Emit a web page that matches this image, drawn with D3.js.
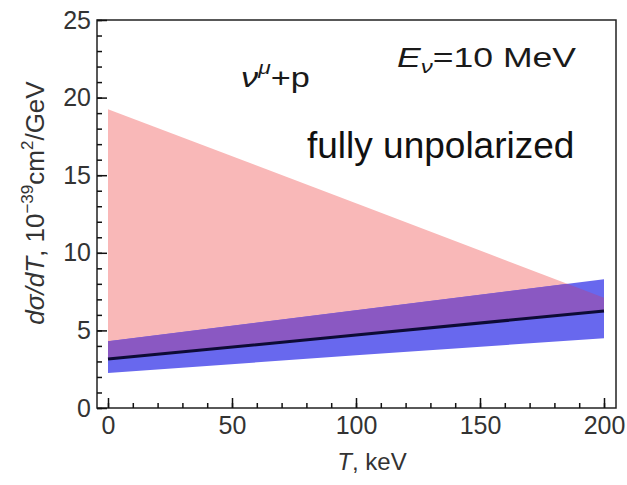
<!DOCTYPE html>
<html lang="en">
    <head>
        <meta charset="utf-8">
        <title>dsigma/dT</title>
        <style>
          body { margin: 0; background: white; }
          text { font-family: "Liberation Sans", Arial, sans-serif; fill: #1a1a1a; }
          .axis path { display: none; }
          .axis line { stroke: #111; stroke-width: 1.5px; }
          .axis text { font-size: 25px; fill: #333; }
        </style>
        <script src="https://d3js.org/d3.v7.min.js"></script>
    </head>
    <body>
        <script type="text/javascript">
          var w=627;
          var h=485;

          // values
          var T=[0,100,200];
          var unpolarized=[3.15,4.7,6.25];
          var pinkTop=[19.25,13.2,7.1];
          var blueLow=[2.25,3.4,4.5];
          var blueHigh=[4.3,6.3,8.3];
          var xTicks=[0,50,100,150,200];
          var yTicks=[0,5,10,15,20,25];

          var svg=d3.select("body").append("svg")
            .attr('width',w)
            .attr('height',h);

          // plot frame (note: "top" is reserved on window)
          var fLeft=97, fRight=616, fTop=20, fBottom=408;

          var x=d3.scaleLinear().domain([0,200]).range([108,604]);
          var y=d3.scaleLinear().domain([0,25]).range([fBottom,fTop]);

          var pts=T.map(function(t,i){
            return {t:t, u:unpolarized[i], p:pinkTop[i], bl:blueLow[i], bh:blueHigh[i]};
          });

          var pinkArea=d3.area()
            .x(function(d){ return x(d.t); })
            .y0(function(d){ return y(d.u); })
            .y1(function(d){ return y(d.p); });
          var blueArea=d3.area()
            .x(function(d){ return x(d.t); })
            .y0(function(d){ return y(d.bl); })
            .y1(function(d){ return y(d.bh); });

          svg.append("clipPath").attr("id","blueClip")
            .append("path").attr("d",blueArea(pts));

          svg.append("path").attr("d",pinkArea(pts)).attr("fill","#f9b8b8");
          svg.append("path").attr("d",blueArea(pts)).attr("fill","#6868ee");
          // overlap of the two bands
          svg.append("path").attr("d",pinkArea(pts))
            .attr("fill","#8a58c2")
            .attr("clip-path","url(#blueClip)");

          svg.append("path")
            .attr("d",d3.line().x(function(d){ return x(d.t); }).y(function(d){ return y(d.u); })(pts))
            .attr("fill","none")
            .attr("stroke","#0d0b35")
            .attr("stroke-width",3);

          // frame
          svg.append("rect")
            .attr("x",fLeft).attr("y",fTop)
            .attr("width",fRight-fLeft).attr("height",fBottom-fTop)
            .attr("fill","none").attr("stroke","#222").attr("stroke-width",1.5);

          // axes, ticks inward
          svg.append("g").attr("class","axis")
            .attr("transform","translate(0,"+fBottom+")")
            .call(d3.axisBottom(x).tickValues(xTicks).tickSize(-10).tickPadding(8));
          svg.append("g").attr("class","axis")
            .attr("transform","translate(0,"+fBottom+")")
            .call(d3.axisBottom(x).tickValues(d3.range(0,201,10)).tickSize(-5).tickFormat(""));
          svg.append("g").attr("class","axis")
            .attr("transform","translate("+fLeft+",0)")
            .call(d3.axisLeft(y).tickValues(yTicks).tickSize(-10).tickPadding(6));
          svg.append("g").attr("class","axis")
            .attr("transform","translate("+fLeft+",0)")
            .call(d3.axisLeft(y).tickValues(d3.range(0,26,1)).tickSize(-5).tickFormat(""));

          // axis titles
          var xl=svg.append("text")
            .attr("x",372).attr("y",470)
            .attr("text-anchor","middle")
            .style("font-size","24px").style("fill","#333");
          xl.append("tspan").style("font-style","italic").text("T");
          xl.append("tspan").text(", keV");

          var yl=svg.append("text")
            .attr("transform","translate(44,203) rotate(-90)")
            .attr("text-anchor","middle")
            .style("font-size","26px").style("fill","#333");
          yl.append("tspan").style("font-style","italic").text("d\u03c3/dT");
          yl.append("tspan").text(", 10");
          yl.append("tspan").attr("dy",-11).style("font-size","17px").text("\u221239");
          yl.append("tspan").attr("dy",11).text("cm");
          yl.append("tspan").attr("dy",-11).style("font-size","17px").text("2");
          yl.append("tspan").attr("dy",11).text("/GeV");

          // annotations (the source image is stretched sideways)
          var t1=svg.append("text").attr("transform","translate(241,87) scale(1.27,1)").style("font-size","27px");
          t1.append("tspan").style("font-style","italic").text("\u03bd");
          t1.append("tspan").attr("dy",-13).style("font-size","18px").style("font-style","italic").text("\u03bc");
          t1.append("tspan").attr("dy",13).text("+p");

          var t2=svg.append("text").attr("transform","translate(397,67) scale(1.27,1)").style("font-size","28px");
          t2.append("tspan").style("font-style","italic").text("E");
          t2.append("tspan").attr("dy",6).style("font-size","19px").style("font-style","italic").text("\u03bd");
          t2.append("tspan").attr("dy",-6).text("=10 MeV");

          svg.append("text").attr("x",307).attr("y",158)
            .style("font-size","37px").style("fill","#111")
            .text("fully unpolarized");
        </script>
    </body>
</html>
